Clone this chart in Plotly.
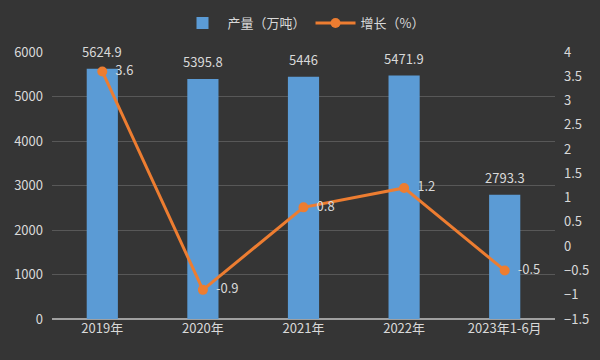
import plotly.graph_objects as go

categories = ["2019年", "2020年", "2021年", "2022年", "2023年1-6月"]
output_vals = [5624.9, 5395.8, 5446, 5471.9, 2793.3]
growth_vals = [3.6, -0.9, 0.8, 1.2, -0.5]
left_ticks = [0, 1000, 2000, 3000, 4000, 5000, 6000]
right_ticks = [-1.5, -1, -0.5, 0, 0.5, 1, 1.5, 2, 2.5, 3, 3.5, 4]

font_family = "Noto Sans CJK SC, Noto Sans, sans-serif"
txt_col = "#d9d9d9"

fig = go.Figure()
fig.add_trace(go.Bar(
    x=categories, y=output_vals, name="产量（万吨）",
    marker=dict(color="#5b9bd5", line=dict(width=0)),
    width=0.31,
))
fig.add_trace(go.Scatter(
    x=categories, y=growth_vals, name="增长（%）", yaxis="y2",
    mode="lines+markers+text",
    line=dict(color="#ed7d31", width=3),
    marker=dict(color="#ed7d31", size=10),
    text=[f"  {v:g}" for v in growth_vals], textposition="middle right",
    textfont=dict(color=txt_col, size=13, family=font_family),
    cliponaxis=False,
))

for c, v in zip(categories, output_vals):
    fig.add_annotation(x=c, y=v, xref="x", yref="y", text=f"{v:g}", showarrow=False,
                       yanchor="bottom", yshift=6,
                       font=dict(color=txt_col, size=13, family=font_family))

fig.update_layout(
    width=600, height=360,
    margin=dict(l=52, r=45, t=52, b=41, autoexpand=False),
    paper_bgcolor="#353535", plot_bgcolor="#353535",
    font=dict(family=font_family, color=txt_col, size=13),
    showlegend=True,
    legend=dict(orientation="h", x=0.5, xanchor="center", xref="paper",
                yref="container", y=1 - 23 / 360, yanchor="middle",
                itemwidth=40,
                font=dict(size=13, color=txt_col), bgcolor="rgba(0,0,0,0)"),
    xaxis=dict(showgrid=False, tickfont=dict(size=13, color=txt_col), ticks="",
               showline=False),
    yaxis=dict(range=[0, 6000], tickvals=left_ticks, showgrid=True, gridcolor="#585858",
               gridwidth=1, zeroline=True, zerolinecolor="#a0a0a0", zerolinewidth=2,
               tickfont=dict(size=13, color=txt_col), ticks="", ticklabelstandoff=8),
    yaxis2=dict(range=[-1.5, 4], tickvals=right_ticks, overlaying="y", side="right",
                showgrid=False, zeroline=False, tickfont=dict(size=13, color=txt_col),
                ticks="", ticklabelstandoff=8),
)
fig.write_html("out.html")
